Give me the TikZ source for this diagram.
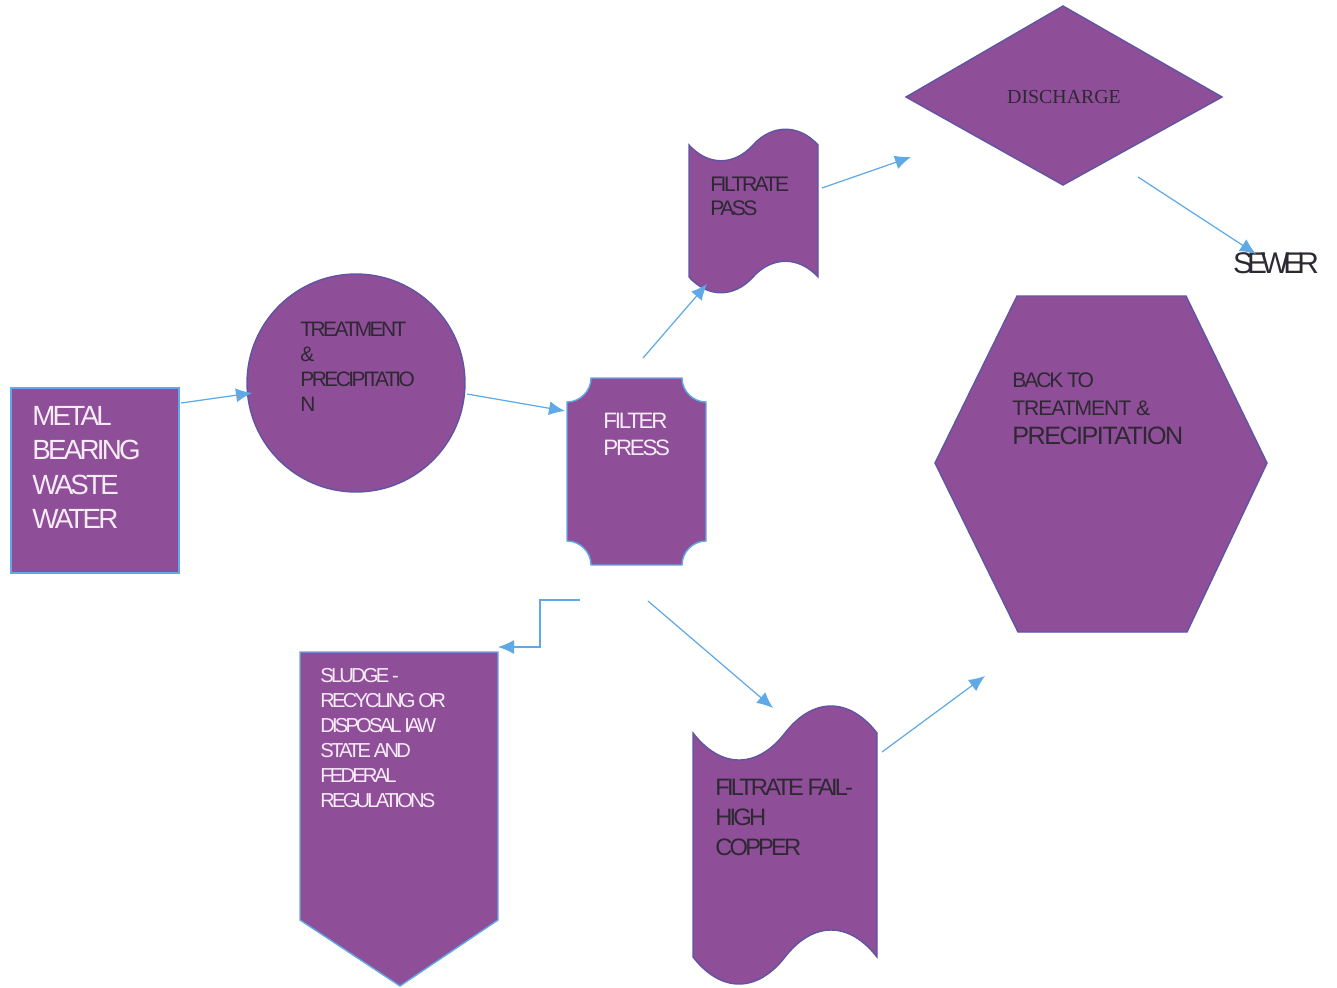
\documentclass[tikz,border=0pt]{standalone}
\usepackage{fontspec}
\setmainfont{Liberation Sans}
\newfontfamily\serf{Liberation Serif}
\usetikzlibrary{arrows.meta}
\definecolor{shapefill}{RGB}{142,78,152}
\definecolor{shapeedge}{RGB}{95,85,165}
\definecolor{flowblue}{RGB}{95,170,230}
\definecolor{darktxt}{RGB}{45,40,50}
\definecolor{lighttxt}{RGB}{248,236,248}
\newcommand{\ls}[1]{\addfontfeature{LetterSpace=#1}}
\begin{document}
\begin{tikzpicture}[x=0.02cm,y=-0.02cm,
  shp/.style={fill=shapefill,draw=shapeedge,line width=0.8pt},
  shpb/.style={fill=shapefill,draw=flowblue,line width=0.8pt},
  flow/.style={draw=flowblue,line width=0.7pt,-{Latex[length=3.2mm,width=2.8mm]}},
  txt/.style={anchor=north west,inner sep=0pt,align=left,text=darktxt},
  wtxt/.style={txt,text=lighttxt}]
\useasboundingbox (0,0) rectangle (1337,987);

% --- shapes ---
% metal bearing waste water
\path[shpb] (11,388) rectangle (179,573);
% treatment circle
\node[shp,circle,minimum size=4.36cm,inner sep=0pt] (treatc) at (356,383) {};
% filter press (concave corners)
\path[shpb] (591,378) -- (682,378)
  .. controls (682,391) and (693,402) .. (706,402) -- (706,541)
  .. controls (693,541) and (682,552) .. (682,565) -- (591,565)
  .. controls (591,552) and (580,541) .. (567,541) -- (567,402)
  .. controls (580,402) and (591,391) .. (591,378) -- cycle;
% filtrate pass (punched tape)
\path[shp] (689,145) .. controls (708,166) and (734,166) .. (753,145)
  .. controls (772,124) and (799,124) .. (818,145) -- (818,277)
  .. controls (799,256) and (772,256) .. (753,277)
  .. controls (734,298) and (708,298) .. (689,277) -- cycle;
% discharge diamond
\path[shp] (906,97) -- (1063,6) -- (1222,97) -- (1063,185) -- cycle;
% hexagon
\path[shp] (1017,296) -- (1186,296) -- (1267,463) -- (1187,632) -- (1018,632) -- (935,463) -- cycle;
% sludge pentagon
\path[shpb] (300,652) -- (498,652) -- (498,920) -- (400,986) -- (300,920) -- cycle;
% filtrate fail (punched tape)
\path[shp] (693,733) .. controls (721,769) and (757,769) .. (785,733)
  .. controls (813,697) and (849,697) .. (877,733) -- (877,957)
  .. controls (849,921) and (813,921) .. (785,957)
  .. controls (757,993) and (721,993) .. (693,957) -- cycle;

% --- texts ---
\node[wtxt,font=\fontsize{15.8}{19.6}\selectfont\ls{-10}] (mbww) at (32,406)
  {METAL\\BEARING\\WASTE\\WATER};
\node[txt,font=\fontsize{11.9}{14.2}\selectfont\ls{-12}] (treat) at (300,322)
  {TREATMENT\\\&\\PRECIPITATIO\\N};
\node[wtxt,font=\fontsize{12.7}{15.3}\selectfont\ls{-10}] (fpress) at (603,413)
  {FILTER\\PRESS};
\node[txt,font=\fontsize{12}{13.6}\selectfont\ls{-12}] (fpass) at (710,177)
  {FILTRATE\\PASS};
\node[inner sep=0pt,text=darktxt,font=\serf\fontsize{11.3}{13}\selectfont] (disc) at (1064,97) {DISCHARGE};
\node[inner sep=0pt,text=darktxt,font=\fontsize{17}{20}\selectfont\ls{-20}] (sewer) at (1276,263) {SEWER};
\node[txt,font=\fontsize{12}{16.4}\selectfont] (back) at (1012,372)
  {{\ls{-10}BACK TO}\\{\ls{-5}TREATMENT \&}\\{\fontsize{14.3}{16.4}\selectfont\ls{-6}PRECIPITATION}};
\node[wtxt,font=\fontsize{11.5}{14.2}\selectfont\ls{-14}] (sludge) at (320,668)
  {SLUDGE -\\RECYCLING OR\\DISPOSAL IAW\\STATE AND\\FEDERAL\\REGULATIONS};
\node[txt,font=\fontsize{13.5}{17}\selectfont\ls{-12}] (ffail) at (715,779)
  {FILTRATE FAIL-\\HIGH\\COPPER};

% --- connector end points ---
\coordinate (a1s) at (181,403); \coordinate (a1e) at (252,393);
\coordinate (a2s) at (467,394); \coordinate (a2e) at (565,411);
\coordinate (a3s) at (643,358); \coordinate (a3e) at (707,284);
\coordinate (a4s) at (822,188); \coordinate (a4e) at (911,157);
\coordinate (a5s) at (1138,177); \coordinate (a5e) at (1256,254);
\coordinate (a6s) at (580,600); \coordinate (a6e) at (498,647);
\coordinate (a7s) at (648,601); \coordinate (a7e) at (773,708);
\coordinate (a8s) at (882,752); \coordinate (a8e) at (985,676);

\draw[flow] (a1s) -- (a1e);
\draw[flow] (a2s) -- (a2e);
\draw[flow] (a3s) -- (a3e);
\draw[flow] (a4s) -- (a4e);
\draw[flow] (a5s) -- (a5e);
\draw[flow] (a6s) -- (540,600) -- (540,647) -- (a6e);
\draw[flow] (a7s) -- (a7e);
\draw[flow] (a8s) -- (a8e);
\end{tikzpicture}
\end{document}
